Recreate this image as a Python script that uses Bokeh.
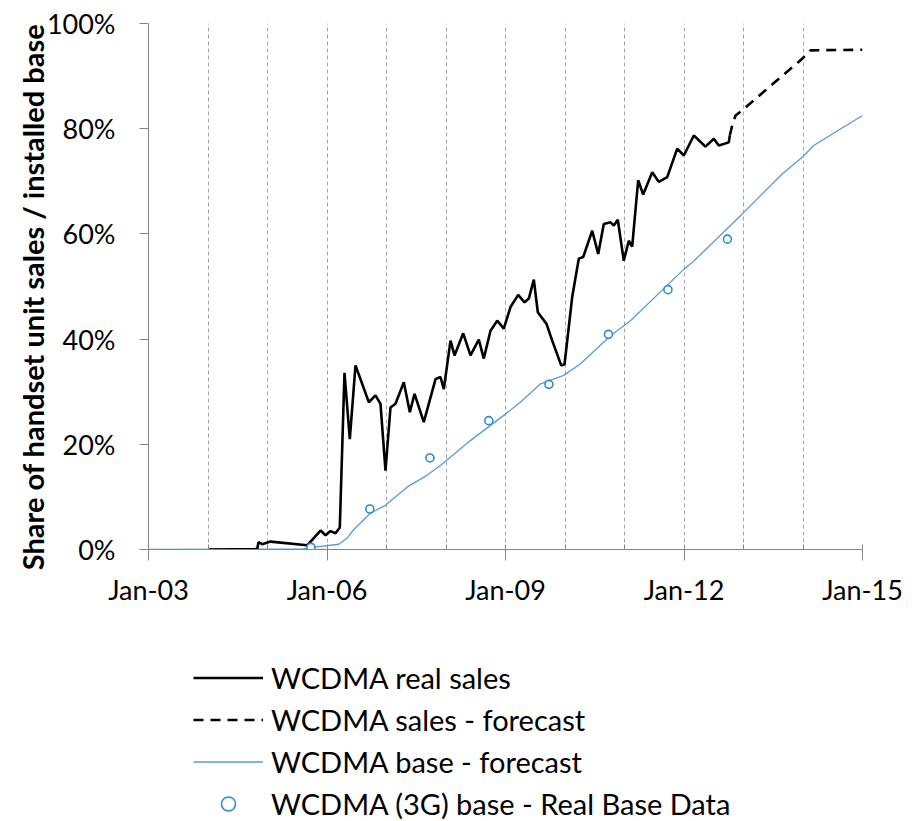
from bokeh.plotting import figure
from bokeh.models import Range1d, FixedTicker, Legend, LegendItem
from bokeh.layouts import column
from bokeh.embed import file_html
from bokeh.resources import INLINE

# ---- data (decimal years, percent) ----
sales_x = [2004.0, 2004.827, 2004.849, 2004.911, 2005.050, 2005.667, 2005.891, 2005.975,
           2006.059, 2006.143, 2006.215, 2006.294, 2006.383, 2006.479, 2006.703, 2006.815,
           2006.899, 2006.983, 2007.067, 2007.151, 2007.291, 2007.392, 2007.471, 2007.627,
           2007.824, 2007.908, 2007.963, 2008.076, 2008.143, 2008.289, 2008.412, 2008.551,
           2008.635, 2008.748, 2008.861, 2008.971, 2009.084, 2009.213, 2009.319, 2009.392,
           2009.476, 2009.543, 2009.689, 2009.785, 2009.936, 2009.992, 2010.121, 2010.232,
           2010.306, 2010.457, 2010.558, 2010.652, 2010.765, 2010.820, 2010.887, 2010.988,
           2011.072, 2011.129, 2011.230, 2011.314, 2011.466, 2011.576, 2011.718, 2011.886,
           2011.997, 2012.165, 2012.361, 2012.501, 2012.585, 2012.753, 2012.770]
sales_y = [0.0, 0.1, 1.4, 1.0, 1.5, 0.8, 3.6, 2.7,
           3.5, 3.1, 4.2, 33.6, 21.0, 35.0, 28.0, 29.3,
           27.7, 15.0, 27.0, 27.7, 31.8, 26.1, 29.6, 24.2,
           32.4, 32.8, 30.5, 39.7, 36.9, 41.1, 36.9, 39.9,
           36.3, 41.6, 43.5, 42.0, 46.1, 48.4, 47.0, 47.7,
           51.3, 45.1, 42.9, 39.7, 35.0, 35.2, 48.0, 55.3,
           55.6, 60.6, 56.2, 61.9, 62.2, 61.6, 62.7, 54.9,
           58.7, 57.6, 70.2, 67.5, 71.7, 69.9, 70.8, 76.2,
           74.9, 78.7, 76.6, 78.1, 76.8, 77.4, 78.7]

forecast_x = [2012.770, 2012.810, 2012.866, 2012.978, 2013.986, 2014.126, 2015.0]
forecast_y = [78.7, 80.6, 82.5, 83.5, 93.3, 94.9, 95.0]

base_x = [2003.0, 2005.6, 2005.75, 2006.2, 2006.35, 2006.45, 2006.73, 2006.98, 2007.35,
          2007.68, 2007.91, 2008.41, 2008.97, 2009.25, 2009.59, 2009.98, 2010.26, 2010.77,
          2011.10, 2012.00, 2012.17, 2012.98, 2013.65, 2013.99, 2014.18, 2015.0]
base_y = [0.0, 0.1, 0.4, 1.0, 2.3, 3.8, 6.9, 8.4, 11.9,
          14.1, 16.0, 20.7, 25.5, 28.0, 31.5, 33.1, 35.3, 40.7,
          43.5, 53.3, 54.9, 63.8, 71.4, 74.6, 76.8, 82.5]

real_base_x = [2005.73, 2006.72, 2007.73, 2008.72, 2009.73, 2010.73, 2011.73, 2012.73]
real_base_y = [0.4, 7.7, 17.4, 24.5, 31.4, 40.9, 49.4, 59.0]

x_tick_vals = [2003, 2006, 2009, 2012, 2015]
x_tick_labels = ["Jan-03", "Jan-06", "Jan-09", "Jan-12", "Jan-15"]
x_grid_years = [2004, 2005, 2006, 2007, 2008, 2009, 2010, 2011, 2012, 2013, 2014, 2015]
y_tick_vals = [0, 20, 40, 60, 80, 100]
y_tick_labels = ["0%", "20%", "40%", "60%", "80%", "100%"]

y_title = "Share of handset unit sales / installed base"
legend_labels = ["WCDMA real sales", "WCDMA sales - forecast",
                 "WCDMA base - forecast", "WCDMA (3G) base - Real Base Data"]

FONT = "Lato"
AXIS_GREY = "#868686"
BASE_BLUE = "#5B9BD5"
DOT_BLUE = "#2F88D4"
W = 919

# ---------------- chart ----------------
p = figure(width=W, height=621, output_backend="svg", toolbar_location=None, title=None,
           x_range=Range1d(2003, 2015), y_range=Range1d(0, 100),
           min_border_left=148, min_border_right=W - 862, min_border_top=23, min_border_bottom=72)
p.outline_line_color = None
p.background_fill_color = "white"
p.border_fill_color = "white"

p.ygrid.grid_line_color = None
p.xgrid.ticker = FixedTicker(ticks=x_grid_years)
p.xgrid.grid_line_color = "#A6A6A6"
p.xgrid.grid_line_dash = "4 3"
p.xgrid.grid_line_width = 1

xa = p.xaxis[0]
xa.ticker = FixedTicker(ticks=x_tick_vals, minor_ticks=x_grid_years)
xa.major_label_overrides = {v: l for v, l in zip(x_tick_vals, x_tick_labels)}
xa.axis_line_color = AXIS_GREY
xa.major_tick_line_color = AXIS_GREY
xa.minor_tick_line_color = AXIS_GREY
xa.major_tick_out = 11
xa.major_tick_in = 0
xa.minor_tick_in = 5
xa.minor_tick_out = 0
xa.major_label_standoff = 12
xa.major_label_text_font = FONT
xa.major_label_text_font_size = "27px"
xa.major_label_text_color = "black"

ya = p.yaxis[0]
ya.ticker = FixedTicker(ticks=y_tick_vals)
ya.major_label_overrides = {v: l for v, l in zip(y_tick_vals, y_tick_labels)}
ya.axis_line_color = AXIS_GREY
ya.major_tick_line_color = AXIS_GREY
ya.minor_tick_line_color = None
ya.major_tick_out = 9
ya.major_tick_in = 0
ya.major_label_standoff = 24
ya.major_label_text_font = FONT
ya.major_label_text_font_size = "27px"
ya.major_label_text_color = "black"
# trailing no-break spaces shift the centred title slightly downwards, as in the original
ya.axis_label = y_title + "\u00a0" * 3
ya.axis_label_text_font = FONT
ya.axis_label_text_font_style = "bold"
ya.axis_label_text_font_size = "29px"
ya.axis_label_text_color = "black"
ya.axis_label_standoff = -6

p.line(base_x, base_y, line_color=BASE_BLUE, line_width=1.3)
p.line(sales_x, sales_y, line_color="black", line_width=2.6)
p.line(forecast_x, forecast_y, line_color="black", line_width=2.6, line_dash="10 7")
p.scatter(real_base_x, real_base_y, marker="circle", size=8,
          line_color=DOT_BLUE, line_width=1.6, fill_color="white")

# ---------------- legend strip (series drawn out of view; only legend shows) ----------------
lg = figure(width=W, height=200, output_backend="svg", toolbar_location=None, title=None,
            x_range=Range1d(0, 1), y_range=Range1d(0, 1), x_axis_type=None, y_axis_type=None,
            min_border_left=0, min_border_right=0, min_border_top=0, min_border_bottom=0)
lg.outline_line_color = None
lg.xgrid.grid_line_color = None
lg.ygrid.grid_line_color = None
lg.border_fill_color = "white"

e_sales = lg.line(sales_x, sales_y, line_color="black", line_width=2.6)
e_fc = lg.line(forecast_x, forecast_y, line_color="black", line_width=2.6, line_dash="10 7")
e_base = lg.line(base_x, base_y, line_color=BASE_BLUE, line_width=1.3)
e_real = lg.scatter(real_base_x, real_base_y, marker="circle", size=8,
                    line_color=DOT_BLUE, line_width=1.6, fill_color="white")

legend = Legend(items=[
    LegendItem(label=legend_labels[0], renderers=[e_sales]),
    LegendItem(label=legend_labels[1], renderers=[e_fc]),
    LegendItem(label=legend_labels[2], renderers=[e_base]),
    LegendItem(label=legend_labels[3], renderers=[e_real]),
], location=(45, 0), orientation="vertical")
legend.label_text_font = FONT
legend.label_text_font_size = "29px"
legend.label_text_color = "black"
legend.glyph_width = 70
legend.glyph_height = 35
legend.label_height = 35
legend.spacing = 7
legend.padding = 0
legend.margin = 0
legend.label_standoff = 8
legend.border_line_color = None
legend.background_fill_alpha = 0
lg.add_layout(legend, "center")

layout = column(p, lg, spacing=0)
open("out.html", "w").write(file_html(layout, INLINE))
